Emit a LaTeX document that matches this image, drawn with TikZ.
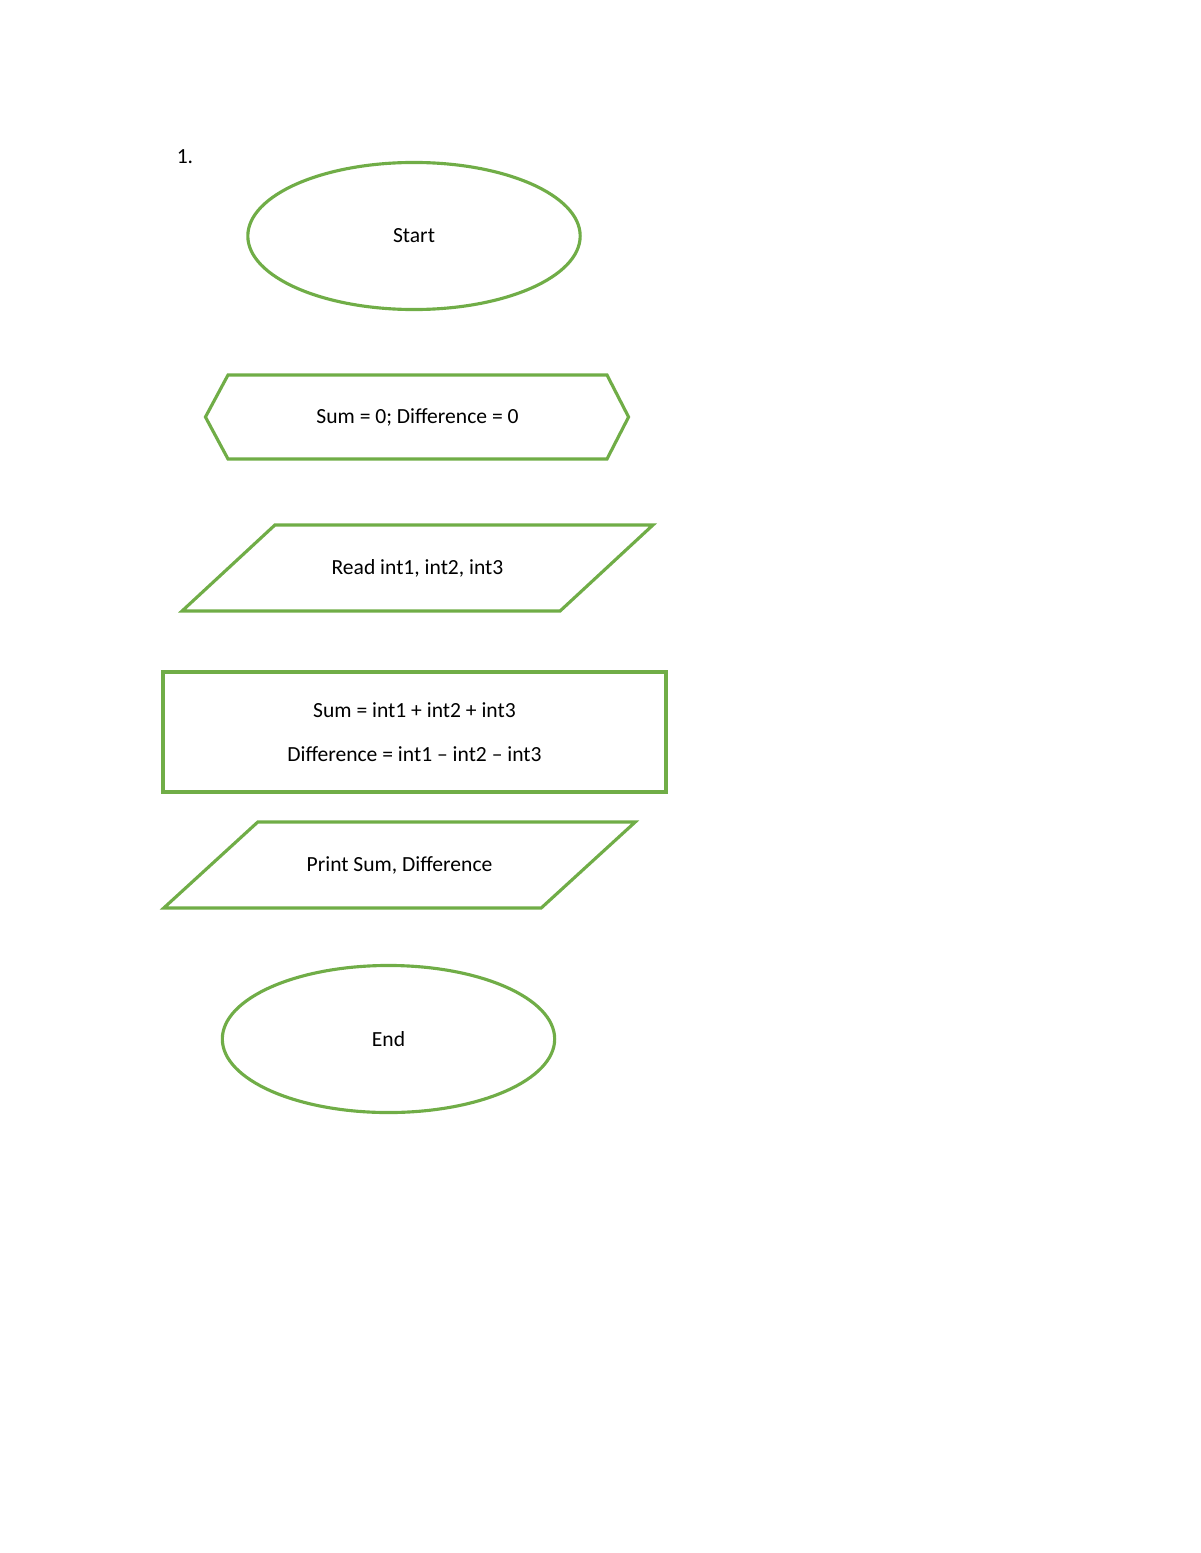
\documentclass[tikz,border=0pt]{standalone}
\usepackage{fontspec}
\setmainfont{Carlito}
\usepackage{xcolor}
\usetikzlibrary{shapes.geometric}
\definecolor{flowgreen}{HTML}{70AD47}

\begin{document}
\begin{tikzpicture}[x=0.51pt, y=-0.51pt, font=\fontsize{11}{13.4}\selectfont,
  outline/.style={draw=flowgreen, line width=1.6pt, line join=miter},
  shapeline/.style={outline, text centered, inner sep=0pt, outer sep=0pt},
  terminal/.style={shapeline, ellipse, minimum width=169.5pt, minimum height=75pt},
  textbody/.style={rectangle, inner sep=0pt, outer sep=0pt, text centered},
  procbox/.style={shapeline, rectangle, minimum width=256.5pt, minimum height=61.2pt, align=center}]
\useasboundingbox (0,0) rectangle (1200,1553);

\node (num) at (185,157) {1.};

\node (start) [terminal] at (414,236) {Start};

\node (init) [textbody, minimum width=193.3pt, minimum height=42.8pt] at (417.5,417) {Sum = 0; Difference = 0};
\draw[outline] (init.north west) -- (init.north east) -- ([xshift=11pt]init.east) -- (init.south east) -- (init.south west) -- ([xshift=-11.5pt]init.west) -- cycle;

\node (read) [textbody, minimum width=192.8pt, minimum height=43.9pt] at (417.5,568) {Read int1, int2, int3};
\draw[outline] ([xshift=23.7pt]read.north west) -- ([xshift=23.7pt]read.north east) -- ([xshift=-23.7pt]read.south east) -- ([xshift=-23.7pt]read.south west) -- cycle;

\node (calc) [procbox] at (414.5,732) {Sum = int1 + int2 + int3\\[9pt]Difference = int1 -- int2 -- int3};

\node (print) [textbody, minimum width=192.5pt, minimum height=43.9pt] at (399.5,865) {Print Sum, Difference};
\draw[outline] ([xshift=24pt]print.north west) -- ([xshift=24pt]print.north east) -- ([xshift=-24pt]print.south east) -- ([xshift=-24pt]print.south west) -- cycle;

\node (stop) [terminal] at (388.5,1039) {End};

\end{tikzpicture}
\end{document}
